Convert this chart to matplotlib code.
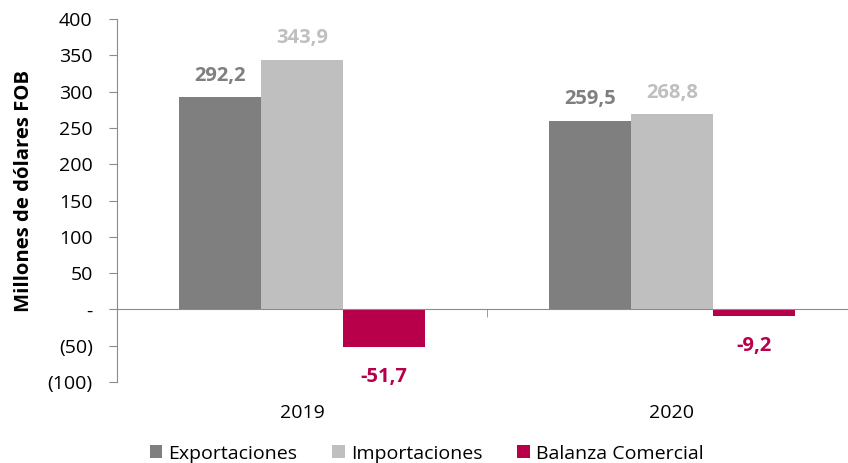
import matplotlib
matplotlib.use("Agg")
from matplotlib import pyplot as plt
from matplotlib.ticker import FixedLocator, FuncFormatter
import numpy as np

plt.rcParams["font.family"] = ["Open Sans", "DejaVu Sans"]

years = ["2019", "2020"]
series = ["Exportaciones", "Importaciones", "Balanza Comercial"]
exportaciones = [292.2, 259.5]
importaciones = [343.9, 268.8]
balanza = [-51.7, -9.2]
colors = ["#7f7f7f", "#bfbfbf", "#b8004a"]

fig = plt.figure(figsize=(8.48, 4.63), dpi=100)
ax = fig.add_axes([117 / 848, 1 - 382 / 463, (848 - 117) / 848, (382 - 19) / 463])

x = np.arange(len(years))
w = 0.222
values = [exportaciones, importaciones, balanza]
for i, (name, vals, col) in enumerate(zip(series, values, colors)):
    bars = ax.bar(x + (i - 1) * w, vals, w, color=col, label=name, zorder=2)
    for b, v in zip(bars, vals):
        txt = f"{v:.1f}".replace(".", ",")
        off = 12 if v >= 0 else -25
        ax.annotate(txt, (b.get_x() + b.get_width() / 2, v), xytext=(0, off),
                    textcoords="offset points", ha="center", va="baseline",
                    fontsize=14.5, fontweight="bold", color=col)

ax.set_ylim(-100, 400)
ax.set_xlim(-0.5, -0.5 + (848 - 117) / 370)
ax.set_yticks(np.arange(-100, 401, 50))


def fmt(v, pos):
    if v == 0:
        return "-"
    if v < 0:
        return f"({abs(int(v))})"
    return f"{int(v)}"


ax.yaxis.set_major_formatter(FuncFormatter(fmt))
ax.tick_params(axis="y", length=5.5, color="#8c8c8c", labelsize=14, pad=12, labelcolor="#000000")

for s in ["top", "right"]:
    ax.spines[s].set_visible(False)
ax.spines["left"].set_color("#8c8c8c")
ax.spines["bottom"].set_position(("data", 0))
ax.spines["bottom"].set_color("#8c8c8c")

ax.set_xticks(x)
ax.set_xticklabels(years)
ax.tick_params(axis="x", length=0, labelsize=14, pad=68)
ax.xaxis.set_minor_locator(FixedLocator([-0.5, 0.5, 1.5]))
ax.tick_params(axis="x", which="minor", length=6, color="#8c8c8c")

ax.set_ylabel("Millones de dólares FOB", fontsize=14.6, fontweight="bold")
ax.yaxis.set_label_coords(-0.113, 0.526)

fig.legend(loc="lower center", bbox_to_anchor=(0.503, -0.037), ncol=3, frameon=False,
           fontsize=14, handlelength=0.65, handleheight=0.65, handletextpad=0.3,
           columnspacing=1.8)

fig.savefig("out.png", dpi=100)
